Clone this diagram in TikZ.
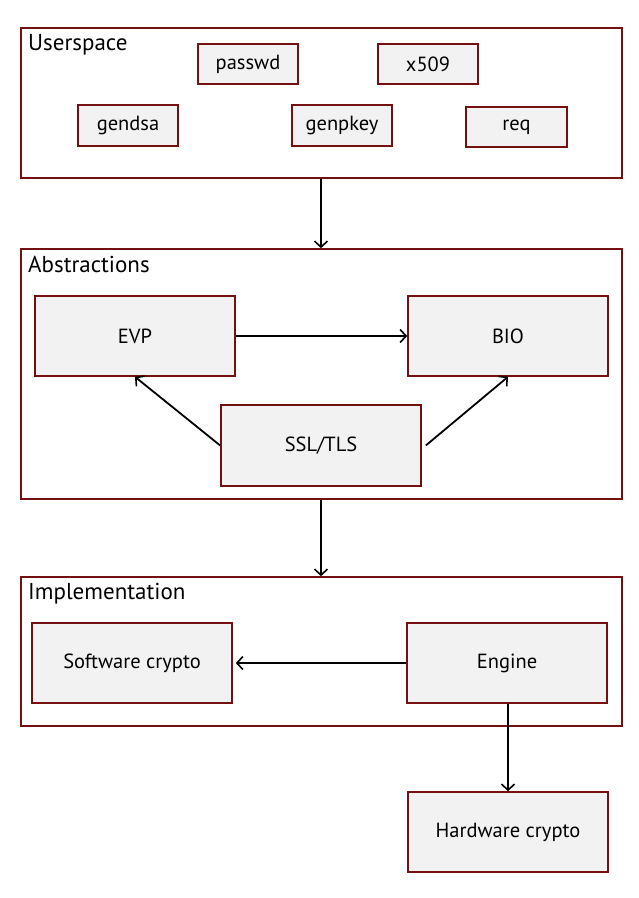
\documentclass[tikz,border=0pt]{standalone}
\usepackage{fontspec}
\setmainfont{PT Sans}
\usetikzlibrary{arrows.meta}
\definecolor{bord}{HTML}{751010}
\definecolor{boxfill}{HTML}{F2F2F2}
\tikzset{
  px/.style={x=1pt,y=-1pt},
  container/.style={draw=bord,line width=1.6pt,fill=white,inner sep=0pt},
  item/.style={draw=bord,line width=1.6pt,fill=boxfill,inner sep=0pt,font=\fontsize{20.5}{24}\selectfont},
  ttl/.style={anchor=north west,inner sep=0pt,font=\fontsize{23}{27}\selectfont},
  conn/.style={draw=black,line width=1.8pt,-{Straight Barb[length=6pt,width=13pt,line width=1.6pt]}}
}
\newcommand{\mybox}[6]{% name, x1, y1, x2, y2, style
  \node[#6, minimum width={(#4-#2)*1pt}, minimum height={(#5-#3)*1pt}] (#1) at ({(#2+#4)/2},{(#3+#5)/2}) {};}
\begin{document}
\begin{tikzpicture}[px]
\useasboundingbox (0,0) rectangle (638,898);
% containers
\mybox{user}{21}{28}{622}{178}{container}
\mybox{abs}{21}{249}{622}{499}{container}
\mybox{impl}{21}{577}{622}{726}{container}
\node[ttl] (tuser) at (28,34) {Userspace};
\node[ttl] (tabs) at (28,256) {Abstractions};
\node[ttl] (timpl) at (28,583) {Implementation};
% userspace items
\node[item,minimum width=100pt,minimum height=40pt] (passwd) at (248,64) {passwd};
\node[item,minimum width=100pt,minimum height=40pt] (x509) at (428,64) {x509};
\node[item,minimum width=100pt,minimum height=41pt] (gendsa) at (128,125.5) {gendsa};
\node[item,minimum width=100pt,minimum height=41pt] (genpkey) at (342,125.5) {genpkey};
\node[item,minimum width=101pt,minimum height=40pt] (req) at (516.5,127) {req};
% abstractions
\node[item,minimum width=200pt,minimum height=80pt] (evp) at (135,336) {EVP};
\node[item,minimum width=200pt,minimum height=80pt] (bio) at (508,336) {BIO};
\node[item,minimum width=200pt,minimum height=81pt] (ssl) at (321,445.5) {SSL/TLS};
% implementation
\node[item,minimum width=200pt,minimum height=80pt] (soft) at (132,663) {Software crypto};
\node[item,minimum width=200pt,minimum height=80pt] (engine) at (507,663) {Engine};
\node[item,minimum width=200pt,minimum height=80pt] (hard) at (508,832) {Hardware crypto};
% connectors
\draw[conn] ([xshift=-0.5pt]user.south) -- ([xshift=-0.5pt]abs.north);
\draw[conn] ([xshift=-0.5pt]abs.south) -- ([xshift=-0.5pt]impl.north);
\draw[conn] (evp.east) -- (bio.west);
\draw[conn] (ssl.west) -- (evp.south);
\draw[conn] ([xshift=4pt]ssl.east) -- (bio.south);
\draw[conn] (engine.west) -- ([xshift=3pt]soft.east);
\draw[conn] ([xshift=1pt]engine.south) -- ([xshift=0pt]hard.north);
\end{tikzpicture}
\end{document}
